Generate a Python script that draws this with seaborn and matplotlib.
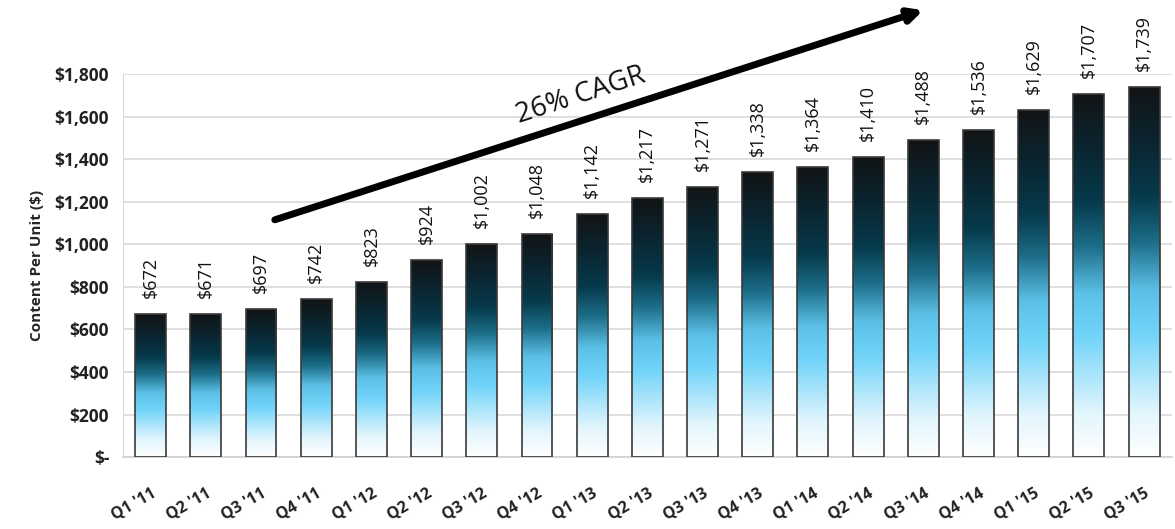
import matplotlib.pyplot as plt
import matplotlib.colors as mcolors
import seaborn as sns
import pandas as pd
import numpy as np

quarters = ["Q1 '11", "Q2 '11", "Q3 '11", "Q4 '11",
            "Q1 '12", "Q2 '12", "Q3 '12", "Q4 '12",
            "Q1 '13", "Q2 '13", "Q3 '13", "Q4 '13",
            "Q1 '14", "Q2 '14", "Q3 '14", "Q4 '14",
            "Q1 '15", "Q2 '15", "Q3 '15"]
content = [672, 671, 697, 742, 823, 924, 1002, 1048, 1142, 1217,
           1271, 1338, 1364, 1410, 1488, 1536, 1629, 1707, 1739]
yticks = [0, 200, 400, 600, 800, 1000, 1200, 1400, 1600, 1800]
ytick_labels = ['$-', '$200', '$400', '$600', '$800', '$1,000',
                '$1,200', '$1,400', '$1,600', '$1,800']

df = pd.DataFrame({'quarter': quarters, 'content': content})

sns.set_style('white')
plt.rcParams['font.family'] = ['Open Sans', 'DejaVu Sans']

fig = plt.figure(figsize=(11.75, 5.29), dpi=100)
ax = fig.add_axes([0.1047, 0.136, 0.8925, 0.724])

sns.barplot(data=df, x='quarter', y='content', ax=ax, width=0.56,
            facecolor='none', edgecolor='#3a3a3a', linewidth=1.2, zorder=3)

# bar gradient: white bottom -> light blue -> dark teal -> black top
grad = mcolors.LinearSegmentedColormap.from_list('bar', [
    (0.00, '#ffffff'), (0.12, '#e2f5fd'), (0.33, '#72d4f9'),
    (0.45, '#5cc0e6'), (0.58, '#1c6d88'), (0.70, '#063a4c'),
    (0.85, '#0b2530'), (1.00, '#121416')])
g = np.linspace(0, 1, 256).reshape(-1, 1)
for p in ax.patches:
    x0, y0 = p.get_x(), p.get_y()
    w, h = p.get_width(), p.get_height()
    im = ax.imshow(g, cmap=grad, origin='lower', aspect='auto',
                   extent=[x0, x0 + w, y0, y0 + h], zorder=2)
    im.set_clip_path(p)

for i, v in enumerate(content):
    ax.text(i, v + 75, '${:,}'.format(v), rotation=90, ha='center',
            va='bottom', fontsize=13, color='#111111')

ax.set_xlim(-0.5, len(quarters) - 0.5)
ax.set_ylim(0, 1800)
ax.set_yticks(yticks)
ax.set_yticklabels(ytick_labels, fontsize=12.5, fontweight='bold', color='#222222')
ax.set_xticks(range(len(quarters)))
ax.set_xticklabels(quarters, rotation=30, ha='right', rotation_mode='anchor',
                   fontsize=11.5, fontweight='bold', color='#222222')
ax.set_xlabel('')
ax.set_ylabel('Content Per Unit ($)', fontsize=11, fontweight='bold', labelpad=8)
ax.tick_params(axis='x', length=0, pad=20)
ax.tick_params(axis='y', length=0, pad=10)

# tick marks between categories on the baseline
ax.set_xticks(np.arange(-0.5, len(quarters), 1), minor=True)
ax.tick_params(axis='x', which='minor', length=5, color='#cccccc', width=1)

ax.yaxis.grid(True, color='#d9d9d9', linewidth=1.2, zorder=0)
ax.set_axisbelow(True)
for s in ['top', 'right']:
    ax.spines[s].set_visible(False)
ax.spines['left'].set_color('#d9d9d9')
ax.spines['bottom'].set_color('#d0d0d0')
ax.spines['bottom'].set_linewidth(1.2)

# CAGR arrow
ax.annotate('', xy=(14.0, 2100), xytext=(2.25, 1115),
            arrowprops=dict(arrowstyle='-|>,head_length=0.8,head_width=0.4',
                            color='black', lw=5, shrinkA=0, shrinkB=0),
            annotation_clip=False, zorder=5)
ax.text(7.8, 1700, '26% CAGR', rotation=18, ha='center', va='center',
        fontsize=20, color='#111111', rotation_mode='anchor')

fig.savefig('out.png', dpi=100)
